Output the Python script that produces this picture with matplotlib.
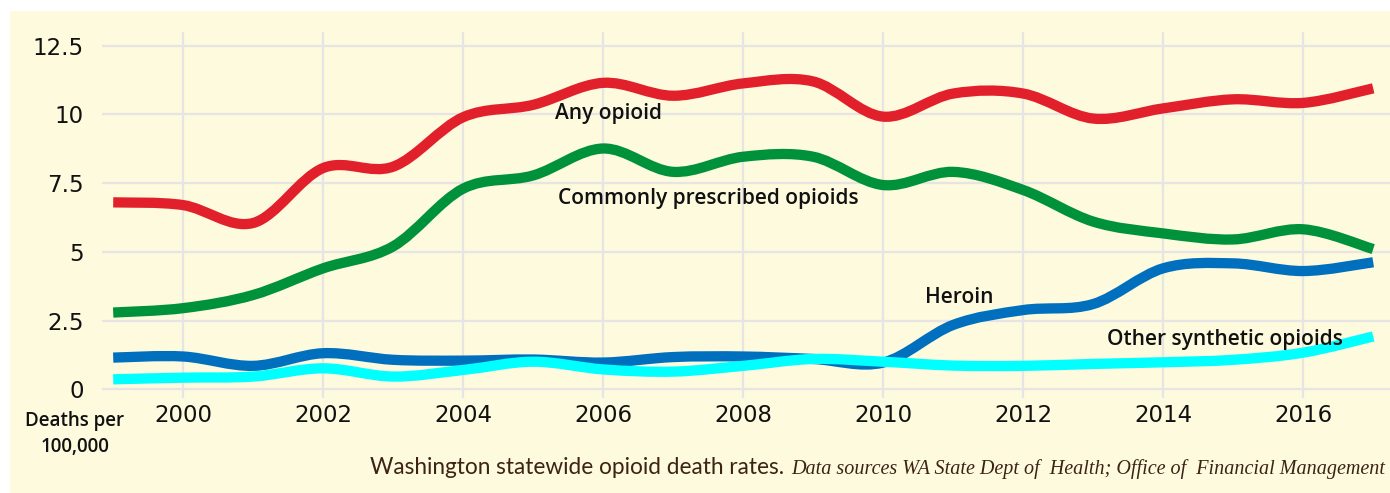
import matplotlib
matplotlib.use("Agg")
import matplotlib.pyplot as plt
import numpy as np
from matplotlib.path import Path
from matplotlib.patches import PathPatch, Rectangle

# data (deaths per 100,000)
years = list(range(1999, 2018))
any_opioid = [6.8, 6.7, 6.05, 8.05, 8.1, 9.9, 10.35, 11.15, 10.68, 11.13,
              11.2, 9.92, 10.76, 10.76, 9.85, 10.22, 10.55, 10.42, 10.95]
prescribed = [2.79, 2.95, 3.43, 4.4, 5.2, 7.3, 7.78, 8.76, 7.91, 8.46,
              8.46, 7.43, 7.91, 7.25, 6.1, 5.67, 5.45, 5.82, 5.1]
heroin = [1.15, 1.19, 0.85, 1.31, 1.07, 1.04, 1.08, 0.97, 1.17, 1.19,
          1.1, 0.97, 2.34, 2.88, 3.1, 4.4, 4.58, 4.3, 4.62]
synthetic = [0.36, 0.42, 0.46, 0.76, 0.46, 0.7, 1.0, 0.72, 0.64, 0.85,
             1.1, 1.0, 0.86, 0.85, 0.92, 0.98, 1.07, 1.33, 1.92]

y_ticks = [0, 2.5, 5, 7.5, 10, 12.5]
y_tick_labels = ["0", "2.5", "5", "7.5", "10", "12.5"]
x_ticks = [2000, 2002, 2004, 2006, 2008, 2010, 2012, 2014, 2016]

series_names = ["Any opioid", "Commonly prescribed opioids", "Heroin",
                "Other synthetic opioids"]
series_colors = ["#E2202B", "#00913B", "#006FBE", "#00FFFF"]

BG = "#FEFADD"
GRID = "#E6E4E4"


def smooth_path(xs, ys):
    """Catmull-Rom curve through the points, as cubic bezier segments

    Args:
        xs: x values
        ys: y values

    returns:
        path: matplotlib Path in data coordinates
    """
    pts = np.column_stack([xs, ys]).astype(float)
    ext = np.vstack([pts[0], pts, pts[-1]])
    verts = [pts[0]]
    codes = [Path.MOVETO]
    for i in range(len(pts) - 1):
        p0, p1, p2, p3 = ext[i], ext[i + 1], ext[i + 2], ext[i + 3]
        c1 = p1 + (p2 - p0) / 6.0
        c2 = p2 - (p3 - p1) / 6.0
        verts += [c1, c2, p2]
        codes += [Path.CURVE4] * 3
    return Path(verts, codes)


fig = plt.figure(figsize=(13.9, 4.93), dpi=100)
fig.patch.set_facecolor("white")
fig.patches.append(Rectangle((10 / 1390, 0), 1, 1 - 11 / 493,
                             transform=fig.transFigure, facecolor=BG,
                             edgecolor="none", zorder=-10))

ax = fig.add_axes([102 / 1390, 95 / 493, 1 - 102 / 1390, 366 / 493])
ax.set_facecolor("none")
ax.set_xlim(1998.84, 2017.24)
ax.set_ylim(-0.32, 13.0)
for s in ax.spines.values():
    s.set_visible(False)

ax.set_yticks(y_ticks)
ax.set_yticklabels(y_tick_labels)
ax.set_xticks(x_ticks)
ax.tick_params(length=0, labelsize=16.5, colors="#111111")
ax.tick_params(axis="y", pad=13)
ax.tick_params(axis="x", pad=4)
ax.grid(True, color=GRID, lw=1.6)
ax.set_axisbelow(True)

data = [any_opioid, prescribed, heroin, synthetic]
for vals, col in zip(data, series_colors):
    patch = PathPatch(smooth_path(years, vals), fill=False, edgecolor=col,
                      lw=7.4, capstyle="butt", joinstyle="round", zorder=3)
    ax.add_patch(patch)

label_font = dict(family=["Open Sans", "Noto Sans", "DejaVu Sans"],
                  fontsize=15, fontweight="semibold", color="#111111",
                  va="center", zorder=5)
ax.text(2005.31, 10.05, series_names[0], **label_font)
ax.text(2005.35, 6.95, series_names[1], **label_font)
ax.text(2010.6, 3.35, series_names[2], **label_font)
ax.text(2013.2, 1.8, series_names[3], **label_font)

fig.text(75 / 1390, 1 - 434 / 493, "Deaths per\n100,000", ha="center",
         va="center", fontsize=13.5, fontweight="semibold",
         family=["Open Sans", "Noto Sans", "DejaVu Sans"], color="#111111",
         linespacing=1.45)

src = fig.text(1385 / 1390, 1 - 474 / 493,
               "Data sources WA State Dept of  Health; Office of  Financial Management",
               ha="right", va="baseline", fontsize=14.5, style="italic",
               family=["Liberation Serif", "DejaVu Serif"], color="#3C2415")
fig.canvas.draw()
bb = src.get_window_extent(fig.canvas.get_renderer())
fig.text((bb.x0 - 7) / 1390, 1 - 474 / 493,
         "Washington statewide opioid death rates.", ha="right",
         va="baseline", fontsize=16.3, family=["Lato", "DejaVu Sans"],
         color="#3C2415")

fig.savefig("out.png", dpi=100, facecolor=fig.get_facecolor())
plt.close()
